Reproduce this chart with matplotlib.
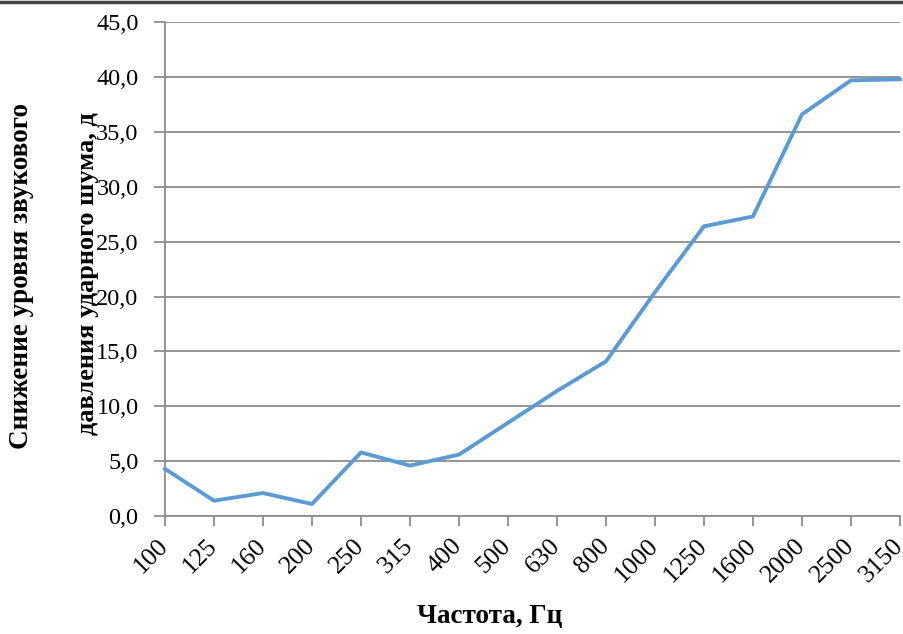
import matplotlib
matplotlib.use("Agg")
import matplotlib.pyplot as plt
from matplotlib.lines import Line2D
from matplotlib.ticker import FuncFormatter, MultipleLocator

plt.rcParams["font.family"] = ["Liberation Serif", "DejaVu Serif"]

# третьоктавные полосы и снижение уровня ударного шума
freqs = ["100", "125", "160", "200", "250", "315", "400", "500",
         "630", "800", "1000", "1250", "1600", "2000", "2500", "3150"]
reduction = [4.3, 1.4, 2.1, 1.1, 5.8, 4.6, 5.6, 8.5,
             11.4, 14.1, 20.4, 26.4, 27.3, 36.6, 39.7, 39.8]

LINE = "#5b9bd5"
GRID = "#8c8c8c"

fig = plt.figure(figsize=(9.04, 6.34), dpi=100)
ax = fig.add_axes([0.1825, 0.186, 0.813, 0.779])

x = list(range(len(freqs)))
ax.plot(x, reduction, color=LINE, lw=2.8, solid_joinstyle="round",
        clip_on=False, zorder=3)

ax.set_xlim(0, len(freqs) - 1)
ax.set_ylim(0, 45)
ax.yaxis.set_major_locator(MultipleLocator(5))
ax.yaxis.set_major_formatter(FuncFormatter(lambda v, _: f"{v:.1f}".replace(".", ",")))
ax.grid(axis="y", color=GRID, lw=1.3)
ax.set_axisbelow(True)

ax.set_xticks(x)
ax.set_xticklabels(freqs, rotation=45, ha="right", va="center",
                   rotation_mode="anchor")
for lbl in ax.get_xticklabels():
    lbl.set_y(-0.012)

for s in ("top", "right"):
    ax.spines[s].set_visible(False)
for s in ("left", "bottom"):
    ax.spines[s].set_color(GRID)
    ax.spines[s].set_linewidth(1.3)
ax.tick_params(axis="both", colors=GRID, labelcolor="black", width=1.3)
ax.tick_params(axis="y", length=8, pad=11, labelsize=17.5)
ax.tick_params(axis="x", length=7, pad=8, labelsize=18.5)

fig.text(0.024, 0.565, "Снижение уровня звукового", rotation=90,
         ha="center", va="center", fontsize=19.5, fontweight="bold")
fig.text(0.097, 0.569, "давления ударного шума, д", rotation=90,
         ha="center", va="center", fontsize=19, fontweight="bold")
fig.text(0.542, 0.027, "Частота, Гц", ha="center", va="center",
         fontsize=19.5, fontweight="bold")

# тёмная полоса по верхнему краю
fig.add_artist(Line2D([0, 1], [0.997, 0.997], transform=fig.transFigure,
                      color="#444444", lw=2.5))

fig.savefig("out.png", dpi=100)
